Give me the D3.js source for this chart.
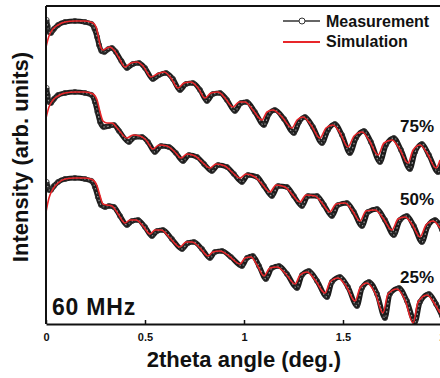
<!DOCTYPE html>
<html>
<head>
<meta charset="utf-8">
<script src="https://cdn.jsdelivr.net/npm/d3@7"></script>
<style>
  body { margin: 0; background: #fff; }
  text { font-family: "Liberation Sans", Arial, sans-serif; font-weight: bold; fill: #111; }
</style>
</head>
<body>
<div id="chart"></div>
<script>
// x tick values / labels (2theta, deg.)
const angleTicks = [0, 0.5, 1, 1.5, 2];
const angleTickLabels = ["0", "0.5", "1", "1.5", "2"];

// curve labels
const seriesLabels = ["75%", "50%", "25%"];

// simulated curves [angle, intensity (arb.)]
const sim75 = [
  [0,277],[0.015,288],[0.035,295],[0.061,299],[0.096,302],[0.146,303],[0.197,303],[0.237,301],
  [0.253,297],[0.263,289],[0.273,279],[0.288,274],[0.308,276],[0.323,277],[0.343,274],[0.369,266],
  [0.399,257],[0.429,261],[0.460,262],[0.490,258],[0.530,247],[0.561,250],[0.596,252],[0.631,246],
  [0.667,236],[0.697,241],[0.732,242],[0.768,236],[0.803,226],[0.833,231],[0.869,232],[0.904,226],
  [0.944,217],[0.975,222],[1.005,222],[1.045,214],[1.091,204],[1.116,212],[1.146,214],[1.192,207],
  [1.242,196],[1.268,204],[1.298,207],[1.338,199],[1.384,186],[1.414,196],[1.449,199],[1.485,191],
  [1.525,177],[1.556,188],[1.596,192],[1.631,184],[1.677,169],[1.707,181],[1.747,184],[1.783,176],
  [1.828,161],[1.854,174],[1.889,179],[1.924,171],[1.970,156],[1.990,164]
];
const sim50 = [
  [0,206],[0.015,217],[0.035,224],[0.061,228],[0.096,231],[0.146,232],[0.197,232],[0.237,230],
  [0.258,224],[0.273,212],[0.288,203],[0.308,201],[0.333,201],[0.359,196],[0.409,186],[0.439,189],
  [0.475,188],[0.505,184],[0.540,175],[0.571,179],[0.611,178],[0.646,173],[0.682,166],[0.712,170],
  [0.753,168],[0.788,162],[0.828,156],[0.859,160],[0.904,158],[0.939,152],[0.980,146],[1.010,150],
  [1.056,147],[1.091,140],[1.131,132],[1.162,139],[1.207,137],[1.242,130],[1.283,122],[1.313,129],
  [1.359,128],[1.394,121],[1.434,112],[1.465,120],[1.510,121],[1.545,114],[1.586,103],[1.616,113],
  [1.662,114],[1.702,106],[1.747,94],[1.778,105],[1.813,107],[1.848,100],[1.889,87],[1.919,99],
  [1.955,103],[1.990,96]
];
const sim25 = [
  [0,112],[0.015,126],[0.035,135],[0.061,141],[0.096,145],[0.146,146],[0.197,146],[0.237,144],
  [0.258,138],[0.273,128],[0.288,120],[0.308,119],[0.333,118],[0.364,110],[0.399,101],[0.424,104],
  [0.455,104],[0.490,98],[0.525,90],[0.551,94],[0.581,94],[0.626,86],[0.677,77],[0.707,82],
  [0.737,82],[0.778,76],[0.818,68],[0.843,72],[0.879,73],[0.924,68],[0.980,60],[1.005,66],
  [1.035,67],[1.066,59],[1.101,48],[1.131,56],[1.167,57],[1.207,51],[1.258,40],[1.283,49],
  [1.318,52],[1.359,44],[1.409,31],[1.434,42],[1.475,46],[1.515,38],[1.561,23],[1.586,36],
  [1.621,41],[1.662,31],[1.702,11],[1.727,30],[1.773,35],[1.813,24],[1.854,1],[1.879,22],
  [1.924,29],[1.960,21],[1.990,11]
];

// measured curves [angle, intensity (arb.)]
const meas75 = [
  [0.003,304],[0.008,298],[0.015,292],[0.025,291],[0.04,295],[0.061,299],[0.096,302],[0.146,303],
  [0.197,302],[0.230,300],[0.245,295],[0.258,287],[0.268,279],[0.280,273],[0.295,272],[0.315,275],
  [0.333,276],[0.353,272],[0.381,263],[0.409,256],[0.439,260],[0.470,261],[0.500,256],[0.540,245],
  [0.571,249],[0.606,251],[0.641,245],[0.677,234],[0.707,240],[0.742,241],[0.778,234],[0.813,223],
  [0.843,230],[0.879,231],[0.914,224],[0.954,213],[0.985,221],[1.015,222],[1.055,212],[1.101,199],
  [1.126,210],[1.156,214],[1.202,205],[1.252,191],[1.278,202],[1.308,207],[1.348,197],[1.394,181],
  [1.424,194],[1.459,200],[1.495,189],[1.535,171],[1.566,186],[1.606,193],[1.641,182],[1.687,162],
  [1.717,179],[1.757,186],[1.793,174],[1.838,155],[1.864,172],[1.899,180],[1.934,169],[1.980,152],
  [2.0,160]
];
const meas50 = [
  [0.003,236],[0.008,229],[0.015,222],[0.025,221],[0.04,225],[0.061,229],[0.096,231],[0.146,232],
  [0.197,231],[0.230,229],[0.247,222],[0.260,212],[0.273,202],[0.290,197],[0.318,198],[0.343,199],
  [0.369,193],[0.419,182],[0.449,187],[0.485,187],[0.515,182],[0.550,172],[0.581,178],[0.621,177],
  [0.656,171],[0.692,163],[0.722,169],[0.763,167],[0.798,160],[0.838,153],[0.869,159],[0.914,157],
  [0.949,150],[0.990,142],[1.020,149],[1.066,147],[1.101,138],[1.141,128],[1.172,138],[1.217,137],
  [1.252,128],[1.293,118],[1.323,128],[1.369,128],[1.404,119],[1.444,108],[1.475,119],[1.520,121],
  [1.555,112],[1.596,98],[1.626,112],[1.672,115],[1.712,104],[1.757,89],[1.788,104],[1.823,108],
  [1.858,98],[1.899,82],[1.929,98],[1.965,104],[2.0,94]
];
const meas25 = [
  [0.003,142],[0.008,138],[0.015,134],[0.025,134],[0.04,138],[0.061,142],[0.096,145],[0.146,146],
  [0.197,145],[0.230,143],[0.247,137],[0.262,127],[0.278,119],[0.298,117],[0.318,118],[0.343,117],
  [0.374,108],[0.409,99],[0.434,103],[0.465,104],[0.500,97],[0.535,88],[0.561,93],[0.591,94],
  [0.636,85],[0.687,75],[0.717,81],[0.747,82],[0.788,75],[0.828,66],[0.853,72],[0.889,73],
  [0.934,67],[0.990,58],[1.015,66],[1.045,68],[1.076,58],[1.111,45],[1.141,56],[1.177,58],
  [1.217,50],[1.268,36],[1.293,49],[1.328,53],[1.369,43],[1.419,27],[1.444,42],[1.485,47],
  [1.525,37],[1.571,18],[1.596,36],[1.631,42],[1.672,30],[1.712,6],[1.737,30],[1.783,36],
  [1.823,23],[1.864,2],[1.889,22],[1.934,30],[1.970,20],[2.0,8]
];

const measured = [meas75, meas50, meas25];
const simulated = [sim75, sim50, sim25];

const width = 440, height = 378;
const plotLeft = 46, plotRight = 442, plotTop = 6, plotBottom = 324;
const red = "#e8262a";

const svg = d3.select("#chart").append("svg")
  .attr("width", width)
  .attr("height", height);

const x = d3.scaleLinear().domain([0, 2]).range([plotLeft, plotRight]);
const y = d3.scaleLinear().domain([0, 318]).range([plotBottom, plotTop]);

svg.append("clipPath").attr("id", "plot")
  .append("rect")
  .attr("x", plotLeft).attr("y", plotTop - 2)
  .attr("width", plotRight - plotLeft).attr("height", plotBottom - plotTop + 2);

const line = d3.line()
  .x(d => x(d[0]))
  .y(d => y(d[1]))
  .curve(d3.curveMonotoneX);

const plot = svg.append("g").attr("clip-path", "url(#plot)");

// measurement: thick dark band of overlapping open circles
measured.forEach(data => {
  plot.append("path")
    .attr("d", line(data))
    .attr("fill", "none")
    .attr("stroke", "#1c1c1c")
    .attr("stroke-width", 5.2);
  plot.append("path")
    .attr("d", line(data))
    .attr("fill", "none")
    .attr("stroke", "#a0a0a0")
    .attr("stroke-width", 1.2)
    .attr("stroke-dasharray", "1.5,2.5");
  plot.selectAll(null)
    .data(data)
    .join("circle")
    .attr("cx", d => x(d[0]))
    .attr("cy", d => y(d[1]))
    .attr("r", 2.6)
    .attr("fill", "none")
    .attr("stroke", "#333")
    .attr("stroke-width", 0.8);
});

// simulation lines
simulated.forEach(data => {
  plot.append("path")
    .attr("d", line(data))
    .attr("fill", "none")
    .attr("stroke", red)
    .attr("stroke-width", 1.6);
});

// axes
const xAxis = svg.append("g")
  .attr("transform", `translate(0,${plotBottom})`)
  .call(d3.axisBottom(x)
    .tickValues(angleTicks)
    .tickFormat((d, i) => angleTickLabels[i])
    .tickSizeInner(-4)
    .tickSizeOuter(0)
    .tickPadding(9));
xAxis.select(".domain").attr("stroke", "#111").attr("stroke-width", 2);
xAxis.selectAll(".tick line").attr("stroke", "#111").attr("stroke-width", 1.5);
xAxis.selectAll(".tick text")
  .attr("font-size", 11)
  .attr("font-family", "Liberation Sans, Arial, sans-serif")
  .attr("font-weight", "bold")
  .attr("fill", "#111");

svg.append("line")
  .attr("x1", plotLeft).attr("x2", plotLeft)
  .attr("y1", plotTop).attr("y2", plotBottom)
  .attr("stroke", "#111").attr("stroke-width", 2);
svg.append("line")
  .attr("x1", plotLeft).attr("x2", width)
  .attr("y1", plotTop).attr("y2", plotTop)
  .attr("stroke", "#111").attr("stroke-width", 2);

// axis titles
svg.append("text")
  .attr("x", 244).attr("y", 367)
  .attr("text-anchor", "middle")
  .attr("font-size", 22)
  .text("2theta angle (deg.)");

svg.append("text")
  .attr("transform", "translate(28,157) rotate(-90)")
  .attr("text-anchor", "middle")
  .attr("font-size", 22)
  .text("Intensity (arb. units)");

// series labels
const labelY = [132, 205, 283];
seriesLabels.forEach((s, i) => {
  svg.append("text")
    .attr("x", 417).attr("y", labelY[i])
    .attr("text-anchor", "middle")
    .attr("font-size", 17)
    .text(s);
});

svg.append("text")
  .attr("x", 52).attr("y", 315)
  .attr("font-size", 23)
  .attr("letter-spacing", 0.8)
  .text("60 MHz");

// legend
const legend = svg.append("g");
legend.append("line")
  .attr("x1", 283).attr("x2", 320).attr("y1", 21).attr("y2", 21)
  .attr("stroke", "#333").attr("stroke-width", 1.6);
legend.append("circle")
  .attr("cx", 302).attr("cy", 21).attr("r", 3)
  .attr("fill", "#fff").attr("stroke", "#333").attr("stroke-width", 1);
legend.append("text")
  .attr("x", 326).attr("y", 27)
  .attr("font-size", 16)
  .text("Measurement");
legend.append("line")
  .attr("x1", 283).attr("x2", 320).attr("y1", 42).attr("y2", 42)
  .attr("stroke", red).attr("stroke-width", 1.8);
legend.append("text")
  .attr("x", 326).attr("y", 47)
  .attr("font-size", 16)
  .text("Simulation");
</script>
</body>
</html>
